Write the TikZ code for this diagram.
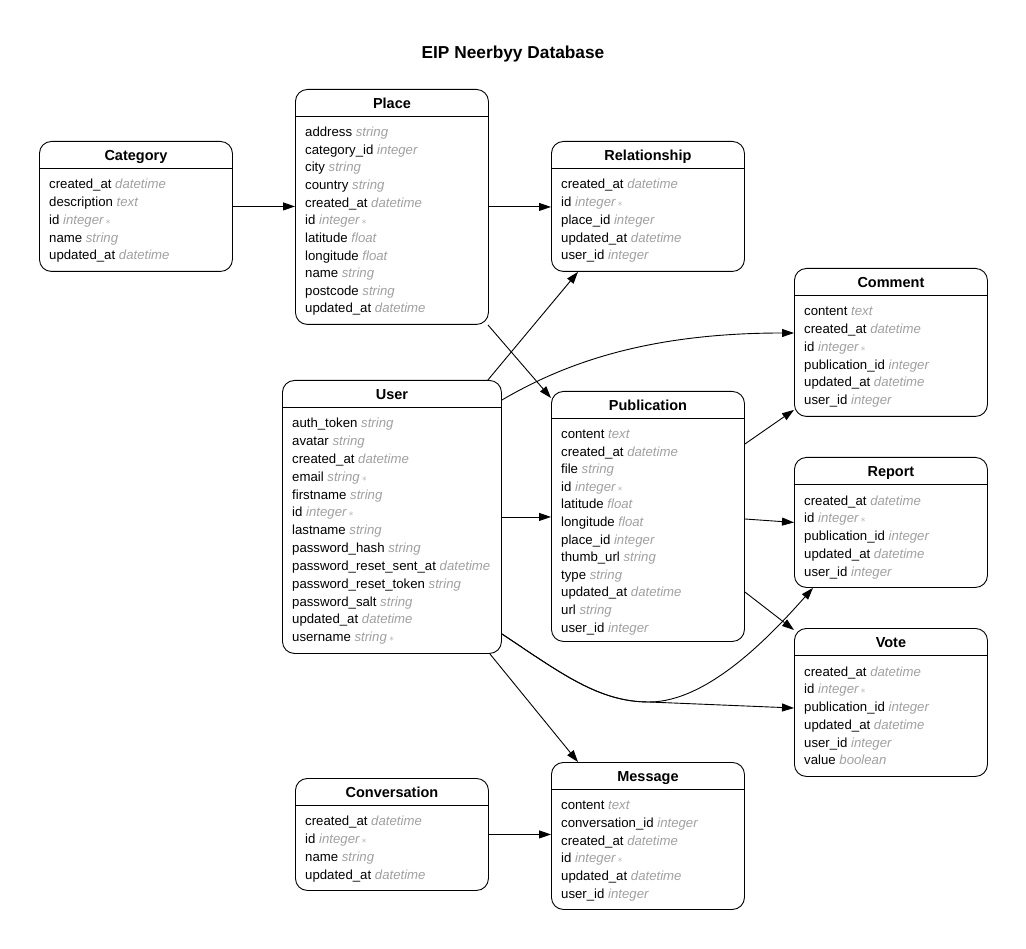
\documentclass[tikz,border=0pt]{standalone}
\usepackage{fontspec}
\setmainfont{Liberation Sans}
\usetikzlibrary{arrows.meta}
\definecolor{typegray}{RGB}{160,160,160}
\newcommand{\ty}[1]{\textcolor{typegray}{\itshape #1}}
\newcommand{\pk}{\,{\fontsize{10}{10}\selectfont$\ast$}}

\begin{document}
\begin{tikzpicture}[x=1pt, y=-1pt,
		tab/.style={draw, line width=0.9pt, rounded corners=12pt, inner sep=0pt, anchor=north west},
		head/.style={anchor=base, inner sep=0pt, font=\fontsize{14.5}{16}\selectfont\bfseries},
		field/.style={anchor=base west, inner sep=0pt, font=\fontsize{13.2}{15}\selectfont},
		rel/.style={line width=0.9pt, -{Triangle[length=12pt,width=8pt]}}]
		\useasboundingbox (0,0) rectangle (1026,949);

		\node[anchor=base, font=\fontsize{17.3}{20}\selectfont\bfseries] (title) at (513,58.5) {EIP Neerbyy Database};

		% tabelle
		\node[tab, minimum width=193pt, minimum height=130pt] (category) at (39,141) {};
		\node[head] at ([yshift=-19.5pt]category.north) {Category};
		\draw ([yshift=-27.5pt]category.north west) -- ([yshift=-27.5pt]category.north east);
		\foreach \f/\t [count=\i] in {created\_at/datetime, description/text, id/integer\pk, name/string, updated\_at/datetime}
			\node[field] at ([xshift=10pt, yshift={-48pt-(\i-1)*17.75pt}]category.north west) {\f\ \ty{\t}};

		\node[tab, minimum width=193pt, minimum height=235pt] (place) at (295,89) {};
		\node[head] at ([yshift=-19.5pt]place.north) {Place};
		\draw ([yshift=-27.5pt]place.north west) -- ([yshift=-27.5pt]place.north east);
		\foreach \f/\t [count=\i] in {address/string, category\_id/integer, city/string, country/string, created\_at/datetime, id/integer\pk, latitude/float, longitude/float, name/string, postcode/string, updated\_at/datetime}
			\node[field] at ([xshift=10pt, yshift={-47.5pt-(\i-1)*17.65pt}]place.north west) {\f\ \ty{\t}};

		\node[tab, minimum width=193pt, minimum height=130pt] (relationship) at (551,141) {};
		\node[head] at ([yshift=-19.5pt]relationship.north) {Relationship};
		\draw ([yshift=-27.5pt]relationship.north west) -- ([yshift=-27.5pt]relationship.north east);
		\foreach \f/\t [count=\i] in {created\_at/datetime, id/integer\pk, place\_id/integer, updated\_at/datetime, user\_id/integer}
			\node[field] at ([xshift=10pt, yshift={-48pt-(\i-1)*17.75pt}]relationship.north west) {\f\ \ty{\t}};

		\node[tab, minimum width=193pt, minimum height=148pt] (comment) at (794,268) {};
		\node[head] at ([yshift=-19.5pt]comment.north) {Comment};
		\draw ([yshift=-27.5pt]comment.north west) -- ([yshift=-27.5pt]comment.north east);
		\foreach \f/\t [count=\i] in {content/text, created\_at/datetime, id/integer\pk, publication\_id/integer, updated\_at/datetime, user\_id/integer}
			\node[field] at ([xshift=10pt, yshift={-48pt-(\i-1)*17.75pt}]comment.north west) {\f\ \ty{\t}};

		\node[tab, minimum width=219pt, minimum height=273pt] (user) at (282,380) {};
		\node[head] at ([yshift=-19.5pt]user.north) {User};
		\draw ([yshift=-27.5pt]user.north west) -- ([yshift=-27.5pt]user.north east);
		\foreach \f/\t [count=\i] in {auth\_token/string, avatar/string, created\_at/datetime, email/string\pk, firstname/string, id/integer\pk, lastname/string, password\_hash/string, password\_reset\_sent\_at/datetime, password\_reset\_token/string, password\_salt/string, updated\_at/datetime, username/string\pk}
			\node[field] at ([xshift=10pt, yshift={-48pt-(\i-1)*17.8pt}]user.north west) {\f\ \ty{\t}};

		\node[tab, minimum width=193pt, minimum height=250pt] (publication) at (551,391) {};
		\node[head] at ([yshift=-19.5pt]publication.north) {Publication};
		\draw ([yshift=-27.5pt]publication.north west) -- ([yshift=-27.5pt]publication.north east);
		\foreach \f/\t [count=\i] in {content/text, created\_at/datetime, file/string, id/integer\pk, latitude/float, longitude/float, place\_id/integer, thumb\_url/string, type/string, updated\_at/datetime, url/string, user\_id/integer}
			\node[field] at ([xshift=10pt, yshift={-47.5pt-(\i-1)*17.6pt}]publication.north west) {\f\ \ty{\t}};

		\node[tab, minimum width=193pt, minimum height=130pt] (report) at (794,457) {};
		\node[head] at ([yshift=-19.5pt]report.north) {Report};
		\draw ([yshift=-27.5pt]report.north west) -- ([yshift=-27.5pt]report.north east);
		\foreach \f/\t [count=\i] in {created\_at/datetime, id/integer\pk, publication\_id/integer, updated\_at/datetime, user\_id/integer}
			\node[field] at ([xshift=10pt, yshift={-48pt-(\i-1)*17.75pt}]report.north west) {\f\ \ty{\t}};

		\node[tab, minimum width=193pt, minimum height=148pt] (vote) at (794,628) {};
		\node[head] at ([yshift=-19.5pt]vote.north) {Vote};
		\draw ([yshift=-27.5pt]vote.north west) -- ([yshift=-27.5pt]vote.north east);
		\foreach \f/\t [count=\i] in {created\_at/datetime, id/integer\pk, publication\_id/integer, updated\_at/datetime, user\_id/integer, value/boolean}
			\node[field] at ([xshift=10pt, yshift={-48pt-(\i-1)*17.75pt}]vote.north west) {\f\ \ty{\t}};

		\node[tab, minimum width=193pt, minimum height=112pt] (conversation) at (295,778) {};
		\node[head] at ([yshift=-19.5pt]conversation.north) {Conversation};
		\draw ([yshift=-27.5pt]conversation.north west) -- ([yshift=-27.5pt]conversation.north east);
		\foreach \f/\t [count=\i] in {created\_at/datetime, id/integer\pk, name/string, updated\_at/datetime}
			\node[field] at ([xshift=10pt, yshift={-47.5pt-(\i-1)*18pt}]conversation.north west) {\f\ \ty{\t}};

		\node[tab, minimum width=193pt, minimum height=147pt] (message) at (551,762) {};
		\node[head] at ([yshift=-19.5pt]message.north) {Message};
		\draw ([yshift=-27.5pt]message.north west) -- ([yshift=-27.5pt]message.north east);
		\foreach \f/\t [count=\i] in {content/text, conversation\_id/integer, created\_at/datetime, id/integer\pk, updated\_at/datetime, user\_id/integer}
			\node[field] at ([xshift=10pt, yshift={-47.5pt-(\i-1)*17.8pt}]message.north west) {\f\ \ty{\t}};

		% relazioni
		\draw[rel] (category.east) -- (category.east -| place.west);
		\draw[rel] (place.east) -- (place.east -| relationship.west);
		\draw[rel] ([xshift=-1pt]place.south east) -- ([yshift=-7pt]publication.north west);
		\draw[rel] ([xshift=-14pt]user.north east) -- ([xshift=27pt]relationship.south west);
		\draw[rel] ([yshift=-20pt]user.north east) .. controls +(60,-35) and +(-150,0) .. ([yshift=-65pt]comment.north west);
		\draw[rel] (user.east) -- (user.east -| publication.west);
		\draw[rel] ([yshift=-53pt]publication.north east) -- ([yshift=7pt]comment.south west);
		\draw[rel] ([yshift=-128pt]publication.north east) -- (report.west);
		\draw[rel] ([yshift=-201pt]publication.north east) -- ([yshift=-2pt]vote.north west);

		\coordinate (split) at (649,702);
		\draw[rel] ([yshift=20pt]user.south east) .. controls +(60,40) and +(-50,0) .. (split) .. controls +(60,0) and +(-40,45) .. ([xshift=19pt]report.south west);
		\draw[rel] ([yshift=20pt]user.south east) .. controls +(60,40) and +(-50,0) .. (split) -- ([yshift=-80pt]vote.north west);

		\draw[rel] ([xshift=-12pt]user.south east) -- ([xshift=27pt]message.north west);
		\draw[rel] (conversation.east) -- (conversation.east -| message.west);
	\end{tikzpicture}
\end{document}
